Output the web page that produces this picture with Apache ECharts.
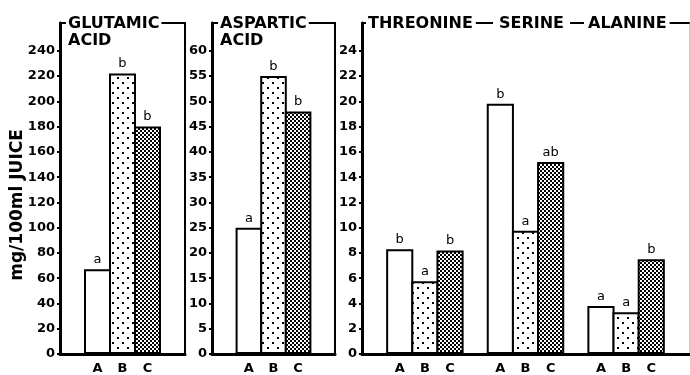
<!DOCTYPE html>
<html>
<head>
<meta charset="utf-8">
<script src="https://cdn.jsdelivr.net/npm/echarts@6/dist/echarts.min.js"></script>
<style>
html,body{margin:0;padding:0;background:#fff;}
#chart{width:690px;height:375px;}
</style>
</head>
<body>
<div id="chart"></div>
<script>
// ---- data ----
const treatments = ['A', 'B', 'C'];
const glutamic = [67, 222, 180];
const glutamicSig = ['a', 'b', 'b'];
const aspartic = [25, 55, 48];
const asparticSig = ['a', 'b', 'b'];
const threonine = [8.3, 5.75, 8.2];
const threonineSig = ['b', 'a', 'b'];
const serine = [19.8, 9.75, 15.2];
const serineSig = ['b', 'a', 'ab'];
const alanine = [3.8, 3.3, 7.5];
const alanineSig = ['a', 'a', 'b'];
const glutamicTicks = [0, 20, 40, 60, 80, 100, 120, 140, 160, 180, 200, 220, 240];
const asparticTicks = [0, 5, 10, 15, 20, 25, 30, 35, 40, 45, 50, 55, 60];
const smallTicks = [0, 2, 4, 6, 8, 10, 12, 14, 16, 18, 20, 22, 24];
const panelTitles = ['GLUTAMIC\nACID', 'ASPARTIC\nACID'];
const groupTitles = ['THREONINE', 'SERINE', 'ALANINE'];
const yName = 'mg/100ml JUICE';

// ---- patterns ----
function dotsPattern() {
  const c = document.createElement('canvas');
  c.width = 10; c.height = 10;
  const g = c.getContext('2d');
  g.fillStyle = '#fff'; g.fillRect(0, 0, 10, 10);
  g.fillStyle = '#000';
  g.fillRect(2, 2, 2, 2);
  g.fillRect(7, 7, 2, 2);
  return c;
}
function crossPattern() {
  const c = document.createElement('canvas');
  c.width = 4; c.height = 4;
  const g = c.getContext('2d');
  g.fillStyle = '#000'; g.fillRect(0, 0, 4, 4);
  g.fillStyle = '#fff';
  g.fillRect(0, 0, 2, 2);
  g.fillRect(2, 2, 2, 2);
  return c;
}
const fills = ['#ffffff', { image: dotsPattern(), repeat: 'repeat' }, { image: crossPattern(), repeat: 'repeat' }];

// build category lists with spacers
function buildPanel(groupsVals, groupsSig) {
  const cats = [''];
  const vals = [null];
  const sigs = [''];
  const kinds = [-1];
  groupsVals.forEach((g, gi) => {
    g.forEach((v, i) => {
      cats.push(treatments[i]);
      vals.push(v);
      sigs.push(groupsSig[gi][i]);
      kinds.push(i);
    });
    cats.push(''); vals.push(null); sigs.push(''); kinds.push(-1);
  });
  return { cats, vals, sigs, kinds };
}
const p1 = buildPanel([glutamic], [glutamicSig]);
const p2 = buildPanel([aspartic], [asparticSig]);
const p3 = buildPanel([threonine, serine, alanine], [threonineSig, serineSig, alanineSig]);

const FONT = 'DejaVu Sans';
const BORDER = 2;
const grids = [
  { left: 60, top: 23, width: 125, bottom: 20 },
  { left: 212, top: 23, width: 123, bottom: 20 },
  { left: 362, top: 23, width: 327, bottom: 20 }
];
const panels = [
  { p: p1, max: 262, ticks: glutamicTicks },
  { p: p2, max: 65.5, ticks: asparticTicks },
  { p: p3, max: 26.2, ticks: smallTicks }
];

const xAxis = [], yAxis = [], series = [];
panels.forEach((pn, i) => {
  const catW = grids[i].width / pn.p.cats.length;
  xAxis.push({
    gridIndex: i, type: 'category', data: pn.p.cats, position: 'bottom',
    axisLine: { show: true, onZero: false, lineStyle: { color: '#000', width: 3 } },
    axisTick: { show: false },
    axisLabel: { color: '#000', fontFamily: FONT, fontWeight: 'bold', fontSize: 13, margin: 8, interval: 0 }
  });
  xAxis.push({
    gridIndex: i, type: 'category', data: pn.p.cats, position: 'top',
    axisLine: { show: true, onZero: false, lineStyle: { color: '#000', width: 2 } },
    axisTick: { show: false }, axisLabel: { show: false }
  });
  yAxis.push({
    gridIndex: i, type: 'value', min: 0, max: pn.max, position: 'left',
    axisLine: { show: true, lineStyle: { color: '#000', width: 3 } },
    axisTick: { show: true, customValues: pn.ticks, length: 3, lineStyle: { color: '#000', width: 2 } },
    axisLabel: { customValues: pn.ticks, color: '#000', fontFamily: FONT, fontWeight: 'bold', fontSize: 13, margin: 5 },
    splitLine: { show: false }
  });
  yAxis.push({
    gridIndex: i, type: 'value', min: 0, max: pn.max, position: 'right',
    axisLine: { show: true, lineStyle: { color: i === 2 ? '#c8c8c8' : '#000', width: i === 2 ? 1 : 2 } },
    axisTick: { show: false }, axisLabel: { show: false }, splitLine: { show: false }
  });
  series.push({
    type: 'bar',
    xAxisIndex: i * 2, yAxisIndex: i * 2,
    barWidth: catW + BORDER,
    data: pn.p.vals.map((v, k) => ({
      value: v,
      itemStyle: {
        color: pn.p.kinds[k] >= 0 ? fills[pn.p.kinds[k]] : '#fff',
        borderColor: '#000',
        borderWidth: BORDER
      }
    })),
    label: {
      show: true, position: 'top', distance: 3, color: '#000',
      fontFamily: FONT, fontSize: 13,
      formatter: (prm) => pn.p.sigs[prm.dataIndex]
    },
    silent: true,
    animation: false
  });
});

const titleStyle = { fontFamily: FONT, fontWeight: 'bold', fontSize: 16, lineHeight: 17, color: '#000' };
const title = [
  { text: panelTitles[0], left: 66, top: 15, padding: [0, 2, 0, 2], backgroundColor: '#fff', textStyle: titleStyle },
  { text: panelTitles[1], left: 218, top: 15, padding: [0, 2, 0, 2], backgroundColor: '#fff', textStyle: titleStyle },
  { text: groupTitles[0], left: 366, top: 15, padding: [0, 3, 0, 2], backgroundColor: '#fff', textStyle: titleStyle },
  { text: groupTitles[1], left: 493, top: 15, padding: [0, 6, 0, 6], backgroundColor: '#fff', textStyle: titleStyle },
  { text: groupTitles[2], left: 584, top: 15, padding: [0, 3, 0, 4], backgroundColor: '#fff', textStyle: titleStyle }
];

const chart = echarts.init(document.getElementById('chart'), null, { renderer: 'canvas' });
chart.setOption({
  animation: false,
  backgroundColor: '#fff',
  title: title,
  grid: grids,
  xAxis: xAxis,
  yAxis: yAxis,
  series: series,
  graphic: [{
    type: 'text', x: 18, y: 205, rotation: Math.PI / 2,
    style: { text: yName, fill: '#000', font: 'bold 17px "DejaVu Sans"', textAlign: 'center', textVerticalAlign: 'middle' }
  }]
});
</script>
</body>
</html>
